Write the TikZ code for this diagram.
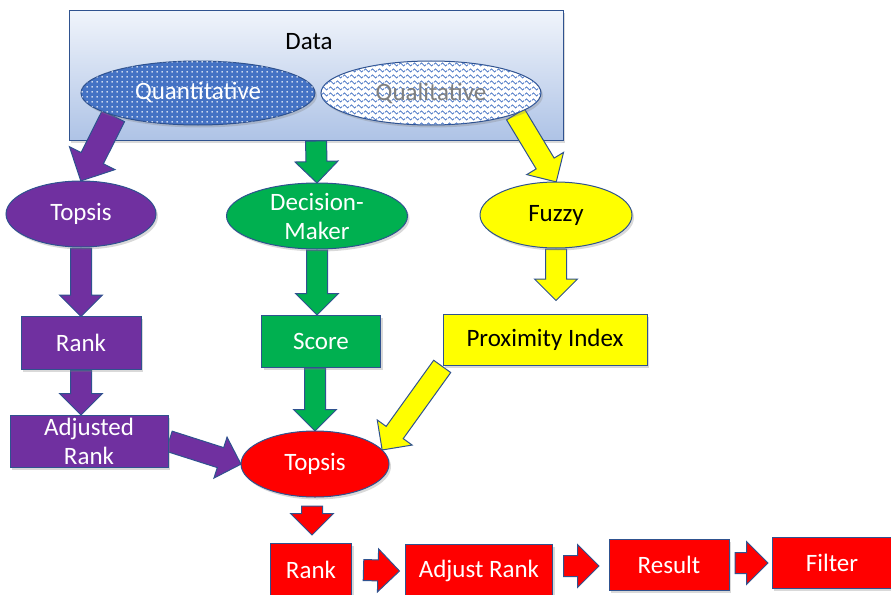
\documentclass[tikz,border=0pt]{standalone}
\usepackage{fontspec}
\setmainfont{Carlito}
\usetikzlibrary{shapes.geometric,shapes.arrows,calc,shadows,patterns}

\definecolor{medge}{HTML}{2F528F}
\definecolor{mblue}{HTML}{4472C4}
\definecolor{mpurple}{HTML}{7030A0}
\definecolor{mgreen}{HTML}{00B050}
\definecolor{myellow}{HTML}{FFFF00}
\definecolor{mred}{HTML}{FF0000}
\definecolor{mgray}{HTML}{7F7F7F}
\definecolor{datatop}{HTML}{F0F4FB}
\definecolor{databot}{HTML}{AEC3E6}

% white dots and blue waves for the two data kinds
\pgfdeclarepatternformonly{quantdots}{\pgfpoint{0pt}{0pt}}{\pgfpoint{5pt}{5pt}}{\pgfpoint{5pt}{5pt}}{%
  \pgfpathcircle{\pgfpoint{2.5pt}{2.5pt}}{1pt}
  \pgfusepath{fill}}
\pgfdeclarepatternformonly{qualwaves}{\pgfpoint{0pt}{0pt}}{\pgfpoint{7pt}{5.5pt}}{\pgfpoint{7pt}{5.5pt}}{%
  \pgfsetlinewidth{0.8pt}
  \pgfpathmoveto{\pgfpoint{0pt}{2.75pt}}
  \pgfpathcurveto{\pgfpoint{1.2pt}{5pt}}{\pgfpoint{2.3pt}{5pt}}{\pgfpoint{3.5pt}{2.75pt}}
  \pgfpathcurveto{\pgfpoint{4.7pt}{0.5pt}}{\pgfpoint{5.8pt}{0.5pt}}{\pgfpoint{7pt}{2.75pt}}
  \pgfusepath{stroke}}

\pgfdeclarelayer{back}
\pgfdeclarelayer{mid}
\pgfsetlayers{back,mid,main}

% block arrow: [options]{colour}{tail}{tip}
\newcommand\flow[4][]{%
  \path let \p1=($(#4)-(#3)$), \n1={atan2(\y1,\x1)}, \n2={veclen(\x1,\y1)} in
    node[flow,fill=#2,rotate=\n1,minimum height=\n2,#1] at (#3) {};}

\begin{document}
\begin{tikzpicture}[x=1pt,y=-1pt,
  every node/.style={font=\fontsize{25}{29}\selectfont},
  lifted/.style={drop shadow={opacity=.3,shadow xshift=2pt,shadow yshift=-2.5pt}},
  oval/.style={ellipse,draw=medge,line width=1pt,inner sep=0pt,lifted},
  block/.style={rectangle,draw=medge,line width=1pt,inner sep=0pt,lifted},
  flow/.style={single arrow,anchor=tail,draw=medge,line width=1pt,inner xsep=0pt,
    inner ysep=10pt,single arrow head extend=11pt,minimum width=0pt}]

  \useasboundingbox (0,0) rectangle (891,594);

  \begin{pgfonlayer}{back}
    \node[block,top color=datatop,bottom color=databot,minimum width=494,minimum height=129] (data) at (316,75.5) {};
  \end{pgfonlayer}
  \node (datatitle) at (309,42) {Data};
  \node[oval,fill=mblue,postaction={pattern=quantdots,pattern color=white},text=white,
    minimum width=234,minimum height=64] (quant) at (198,93) {Quantitative};
  \node[oval,fill=white,postaction={pattern=qualwaves,pattern color=mblue},text=mgray,
    minimum width=220,minimum height=64] (qual) at (431,93) {Qualitative};

  \node[oval,fill=mpurple,text=white,minimum width=150,minimum height=66] (topsisA) at (81,214) {Topsis};
  \node[oval,fill=mgreen,text=white,align=center,minimum width=181,minimum height=66] (dm) at (317,216) {Decision-\\Maker};
  \node[oval,fill=myellow,minimum width=152,minimum height=66] (fuzzy) at (556,215) {Fuzzy};

  \node[block,fill=mpurple,text=white,minimum width=120,minimum height=53] (rankA) at (81,343) {Rank};
  \node[block,fill=mgreen,text=white,minimum width=119,minimum height=52] (score) at (321,341) {Score};
  \node[block,fill=myellow,minimum width=204,minimum height=51] (prox) at (545,340) {Proximity Index};

  \node[block,fill=mpurple,text=white,align=center,minimum width=158,minimum height=52] (adjA) at (89,441) {Adjusted\\Rank};
  \node[oval,fill=mred,text=white,minimum width=148,minimum height=66] (topsisB) at (315,464) {Topsis};

  \node[block,fill=mred,text=white,minimum width=81,minimum height=54] (rankB) at (311,570) {Rank};
  \node[block,fill=mred,text=white,minimum width=147,minimum height=54] (adjB) at (479,571) {Adjust Rank};
  \node[block,fill=mred,text=white,minimum width=120,minimum height=51] (result) at (669,565) {Result};
  \node[block,fill=mred,text=white,minimum width=120,minimum height=51] (filter) at (832,563) {Filter};

  % free ends of the short arrows
  \coordinate (pxtip) at ($(fuzzy.south |- prox.north)+(0,-14)$);
  \coordinate (rdtail) at ($(topsisB.south)+(-3,8)$);
  \coordinate (rdtip) at ($(rdtail |- rankB.north)+(0,-8)$);
  \coordinate (h1tail) at ($(rankB.east)+(11,0)$);
  \coordinate (h1tip) at ($(adjB.west)+(-6,0)$);
  \coordinate (h2tail) at ($(adjB.east |- result.west)+(10,1)$);
  \coordinate (h2tip) at ($(result.west)+(-10,1)$);
  \coordinate (h3tail) at ($(result.east |- filter.west)+(5,0)$);
  \coordinate (h3tip) at ($(filter.west)+(-4,0)$);

  \begin{pgfonlayer}{mid}
    \flow[inner ysep=12pt,single arrow head extend=13pt]{mpurple}{quant.-165}{topsisA.north}
    \flow{mgreen}{data.south}{dm.north}
    \flow{myellow}{qual.-14}{fuzzy.north}
    \flow{mpurple}{topsisA.south}{rankA.north}
    \flow{mgreen}{dm.south}{dm.south |- score.north}
    \flow{myellow}{fuzzy.south}{pxtip}
    \flow{mpurple}{rankA.south}{rankA.south |- adjA.north}
    \flow{mgreen}{score.south -| topsisB.north}{topsisB.north}
    \flow{myellow}{prox.south west}{topsisB.12}
    \flow{mpurple}{adjA.east}{topsisB.west}
    \flow{mred}{rdtail}{rdtip}
    \flow{mred}{h1tail}{h1tip}
    \flow{mred}{h2tail}{h2tip}
    \flow{mred}{h3tail}{h3tip}
  \end{pgfonlayer}
\end{tikzpicture}
\end{document}
